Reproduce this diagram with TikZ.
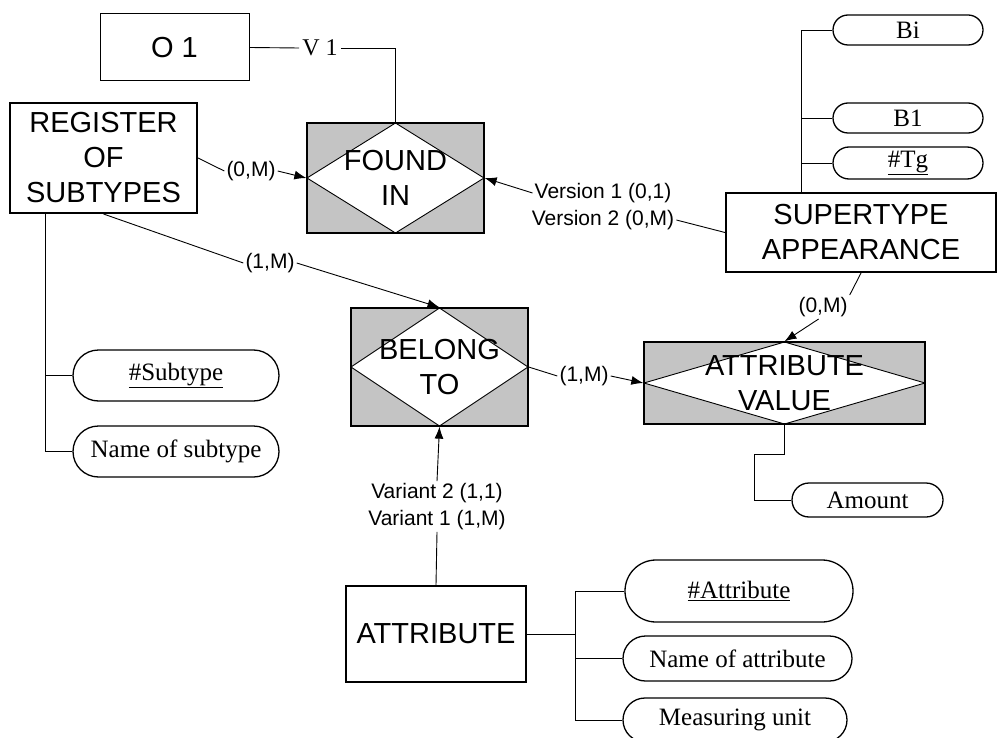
\documentclass[tikz,border=0pt]{standalone}
\usepackage{fontspec}
\setmainfont{Liberation Serif}
\setsansfont{Liberation Sans}
\usetikzlibrary{arrows.meta,shapes.misc}
\definecolor{relgray}{RGB}{196,196,196}
\begin{document}
\begin{tikzpicture}[x=1pt,y=-1pt,
  conn/.style={line width=0.9pt},
  arr/.style={conn,-{Latex[length=12pt,width=9pt]}},
  box/.style={draw,line width=2pt,inner sep=0pt,align=center,font=\sffamily\fontsize{29}{35}\selectfont},
  thinbox/.style={box,line width=1pt},
  rel/.style={box,line width=1.3pt,fill=relgray,
    path picture={
      \fill[white] (path picture bounding box.north) -- (path picture bounding box.east)
        -- (path picture bounding box.south) -- (path picture bounding box.west) -- cycle;
      \draw[line width=0.9pt] (path picture bounding box.north) -- (path picture bounding box.east)
        -- (path picture bounding box.south) -- (path picture bounding box.west) -- cycle;}},
  attrib/.style={draw,rounded rectangle,line width=1.3pt,inner sep=0pt,font=\fontsize{25}{30}\selectfont},
  card/.style={inner sep=2pt,font=\sffamily\fontsize{21}{27}\selectfont},
]
\useasboundingbox (0,0) rectangle (998,738);
\fill[white] (0,0) rectangle (998,738);

% entities and relationships
\node[thinbox,minimum width=149pt,minimum height=67pt] (o1) at (174.5,47.5) {O 1};
\node[box,minimum width=187pt,minimum height=110pt] (reg) at (103.5,158) {REGISTER\\OF\\SUBTYPES};
\node[rel,minimum width=177pt,minimum height=110pt] (found) at (395.5,178) {FOUND\\IN};
\node[box,minimum width=270pt,minimum height=79pt] (super) at (861,232.5) {SUPERTYPE\\APPEARANCE};
\node[rel,minimum width=177pt,minimum height=118pt] (belong) at (439.5,367) {BELONG\\TO};
\node[rel,minimum width=281pt,minimum height=82pt] (av) at (784.5,383) {ATTRIBUTE\\VALUE};
\node[box,minimum width=180pt,minimum height=96pt] (attr) at (436,634) {ATTRIBUTE};

% attributes
\node[attrib,minimum width=150pt,minimum height=30pt] (bi) at (908,30) {Bi};
\node[attrib,minimum width=150pt,minimum height=30pt] (b1) at (908,118) {B1};
\node[attrib,minimum width=150pt,minimum height=32pt] (tg) at (908,163) {\underline{\#Tg}};
\node[attrib,minimum width=206pt,minimum height=51pt] (st) at (176,375.5) {\underline{\#Subtype}};
\node[attrib,minimum width=206pt,minimum height=51pt] (nst) at (176,451.5) {Name of subtype};
\node[attrib,minimum width=151pt,minimum height=34pt] (amount) at (867.5,500) {Amount};
\node[attrib,minimum width=228pt,minimum height=62pt] (a1) at (739,591) {\underline{\#Attribute}};
\node[attrib,minimum width=229pt,minimum height=45pt] (a2) at (737.5,658.5) {Name of attribute};
\node[attrib,minimum width=224pt,minimum height=44pt] (a3) at (735,720) {Measuring unit};

% labels
\node[inner sep=3pt,font=\fontsize{24}{28}\selectfont] (v1) at (320,48) {V 1};
\node[card] (c1) at (251,171) {(0,M)};
\node[card] (c2) at (270,263) {(1,M)};
\node[card] (c3) at (584,376) {(1,M)};
\node[card] (c4) at (823,307) {(0,M)};
\node[card] (ver1) at (603,193) {Version 1 (0,1)};
\node[card] (ver2) at (603,220) {Version 2 (0,M)};
\node[card] (var2) at (437,493) {Variant 2 (1,1)};
\node[card] (var1) at (437,520) {Variant 1 (1,M)};

% junction coordinates
\coordinate (sj) at (801,193);
\coordinate (rj) at (45,213);
\coordinate (aj) at (575,634);
\coordinate (avj) at (754,454);

% connectors
\draw[conn] (o1.east) -- (v1.west);
\draw[conn] (v1.east) -| (found.north);
\draw[conn] (reg.east) -- (c1.west);
\draw[arr] (c1.east) -- (found.west);
\draw[conn] (reg.south) -- (c2.west);
\draw[arr] (c2.east) -- (belong.north);
\draw[arr] (ver1.west) -- (found.east);
\draw[conn] (ver2.east) -- (super.west);
\draw[conn] (belong.east) -- (c3.west);
\draw[arr] (c3.east) -- (av.west);
\draw[conn] (super.south) -- (c4.north east);
\draw[arr] (c4.250) -- (av.north);
\draw[arr] (var2.north) -- (belong.south);
\draw[conn] (var1.south) -- (attr.north);

\draw[conn] (sj) |- (bi.west);
\draw[conn] (sj) |- (b1.west);
\draw[conn] (sj) |- (tg.west);
\draw[conn] (rj) |- (st.west);
\draw[conn] (rj) |- (nst.west);
\draw[conn] (attr.east) -- (aj);
\draw[conn] (aj) |- (a1.west);
\draw[conn] (aj) |- (a2.west);
\draw[conn] (aj) |- (a3.west);
\draw[conn] (av.south) |- (avj);
\draw[conn] (avj) |- (amount.west);
\end{tikzpicture}
\end{document}
